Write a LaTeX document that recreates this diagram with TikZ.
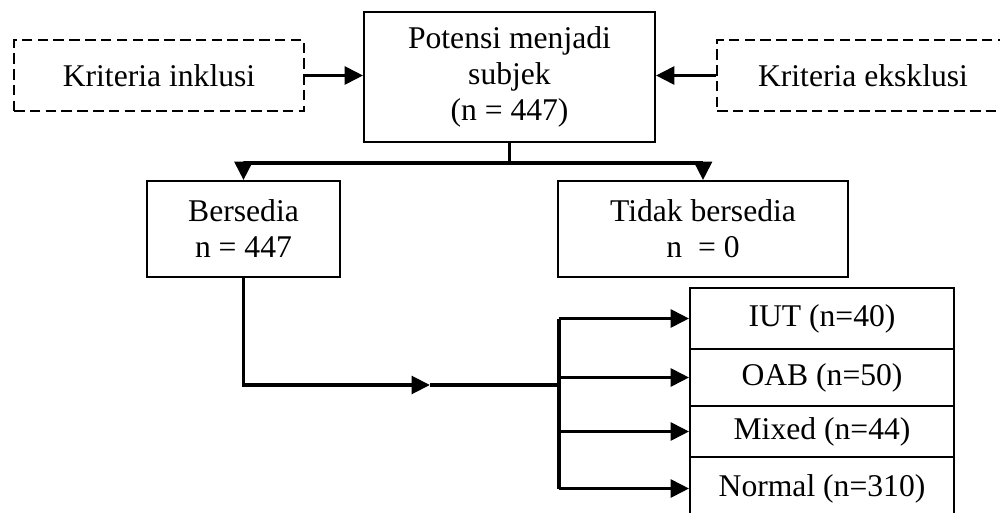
\documentclass[tikz,border=0pt]{standalone}
\usepackage{fontspec}
\setmainfont{Liberation Serif}
\usetikzlibrary{arrows.meta,calc,positioning}
\definecolor{ink}{HTML}{000000}
\tikzset{>={Triangle[length=10.5pt,width=10pt]},
  every node/.style={font=\fontsize{18}{20.5}\selectfont,text=ink},
  box/.style={draw=ink,line width=1pt,align=center,inner sep=0pt},
  critbox/.style={box,dash pattern=on 6pt off 3pt,line width=1.5pt},
  link/.style={draw=ink,line width=2.2pt},
  arrow/.style={link,->}}

\begin{document}
\begin{tikzpicture}[x=0.02cm,y=-0.02cm]
\useasboundingbox (0,0) rectangle (1000,513);
\clip (0,0) rectangle (1000,513);
% top row
\node[box,minimum width=5.82cm,minimum height=2.6cm] (pot) at (509.5,77) {Potensi menjadi\\subjek\\(n = 447)};
\node[critbox,minimum width=5.8cm,minimum height=1.42cm] (inkl) at (159,75.5) {Kriteria inklusi};
\node[critbox,minimum width=5.84cm,minimum height=1.42cm] (eks) at (863,75.5) {Kriteria eksklusi};
% consent
\node[box,minimum width=3.86cm,minimum height=1.92cm] (bers) at (243.5,229) {Bersedia\\n = 447};
\node[box,minimum width=5.8cm,minimum height=1.92cm] (tidak) at (703,229) {Tidak bersedia\\n \ = 0};
% groups
\node[box,minimum width=5.28cm,minimum height=1.22cm] (iut) at (822,318.5) {IUT (n=40)};
\node[box,minimum width=5.28cm,minimum height=1.14cm] (oab) at (822,377.5) {OAB (n=50)};
\node[box,minimum width=5.28cm,minimum height=1.02cm] (mix) at (822,431.5) {Mixed (n=44)};
\node[box,minimum width=5.28cm,minimum height=1.26cm] (norm) at (822,488.5) {Normal (n=310)};

\draw[arrow] (inkl.east) -- (inkl.east -| pot.west);
\draw[arrow] (eks.west) -- (eks.west -| pot.east);
\draw[link] (pot.south) -- ++(0,20) coordinate (fork);
\draw[arrow] (fork) -| (bers.north);
\draw[arrow] (fork) -| (tidak.north);

\coordinate (mid) at (430,385);
\coordinate (split) at (559,385);
\draw[arrow] (bers.south) |- (mid);
\draw[link] (mid) -- (split);
\draw[link] (split |- iut.west) -- (split |- norm.west);
\foreach \grp in {iut,oab,mix,norm}
  \draw[arrow] (split |- \grp.west) -- (\grp.west);
\end{tikzpicture}
\end{document}
